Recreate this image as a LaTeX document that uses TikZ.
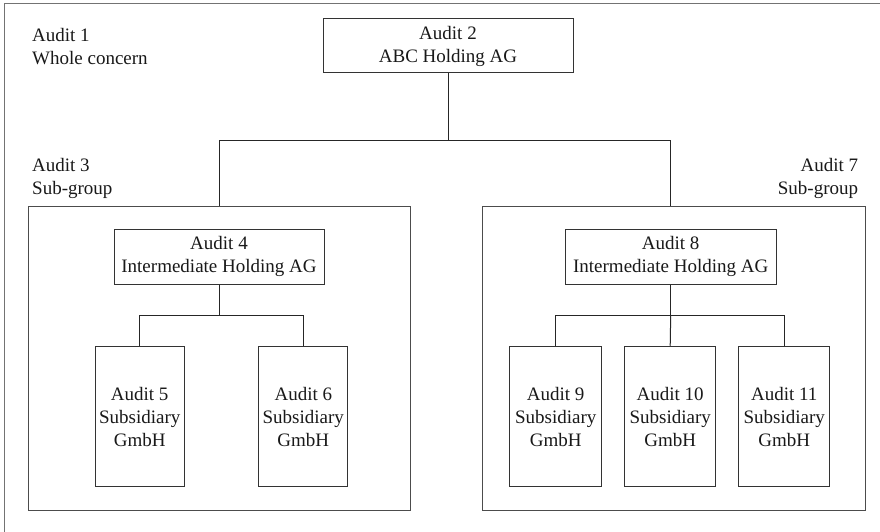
\documentclass[tikz,border=0pt]{standalone}
\usepackage{fontspec}
\setmainfont{Liberation Serif}
\begin{document}
\begin{tikzpicture}[x=1pt,y=-1pt,
  every node/.style={font=\fontsize{19}{23}\selectfont, text=black!90},
  unit/.style={draw=black!80, line width=1pt, rectangle, inner sep=0pt, align=center},
  group/.style={draw=black!70, line width=0.9pt, rectangle, inner sep=0pt},
  link/.style={draw=black!85, line width=1pt},
  caption/.style={inner sep=0pt}]
\clip (0,0) rectangle (880,532);
\fill[white] (0,0) rectangle (880,532);
% whole concern frame, running past the right and bottom edges
\draw[black!55, line width=1.4pt] (4.5,3.8) rectangle (900,560);

% sub-group frames
\node[group, minimum width=382pt, minimum height=304pt] (sg3) at (219,358) {};
\node[group, minimum width=382.3pt, minimum height=304pt] (sg7) at (673.85,358) {};

% companies
\node[unit, minimum width=250pt, minimum height=54pt] (a2) at (448,46) {Audit 2\\ABC Holding AG};
\node[unit, minimum width=210pt, minimum height=55pt] (a4) at (219,256.5) {Audit 4\\Intermediate Holding AG};
\node[unit, minimum width=210.7pt, minimum height=55pt] (a8) at (670.7,256.5) {Audit 8\\Intermediate Holding AG};

\node[unit, minimum width=88.7pt, minimum height=140.5pt] (a5) at (139.7,416.5) {Audit 5\\Subsidiary\\GmbH};
\node[unit, minimum width=88.7pt, minimum height=140.5pt] (a6) at (303.3,416.5) {Audit 6\\Subsidiary\\GmbH};
\node[unit, minimum width=92pt, minimum height=140.5pt] (a9) at (555.7,416.5) {Audit 9\\Subsidiary\\GmbH};
\node[unit, minimum width=90.6pt, minimum height=140.5pt] (a10) at (670.2,416.5) {Audit 10\\Subsidiary\\GmbH};
\node[unit, minimum width=90.7pt, minimum height=140.5pt] (a11) at (784.3,416.5) {Audit 11\\Subsidiary\\GmbH};

% captions (base anchor sits on the last line)
\node[caption, anchor=base west, align=left] (c1) at (32,65) {Audit 1\\Whole concern};
\node[caption, anchor=base west, align=left] (c3) at (32,194) {Audit 3\\Sub-group};
\node[caption, anchor=base east, align=right] (c7) at (858.3,194) {Audit 7\\Sub-group};

% bus levels
\coordinate (bus1) at (448,140);
\coordinate (bus4) at (219,315.3);
\coordinate (bus8) at (670.7,315.3);

% connectors
\draw[link] (a2.south) -- (bus1);
\draw[link] (bus1) -| (sg3.north);
\draw[link] (bus1) -| (a8.north |- sg7.north);

\draw[link] (a4.south) -- (bus4);
\draw[link] (bus4) -| (a5.north);
\draw[link] (bus4) -| (a6.north);

\draw[link] (a8.south) -- (bus8);
\draw[link] (bus8) -| (a9.north);
\draw[link] (bus8) -- (a10.north);
\draw[link] (bus8) -| (a11.north);
\end{tikzpicture}
\end{document}
